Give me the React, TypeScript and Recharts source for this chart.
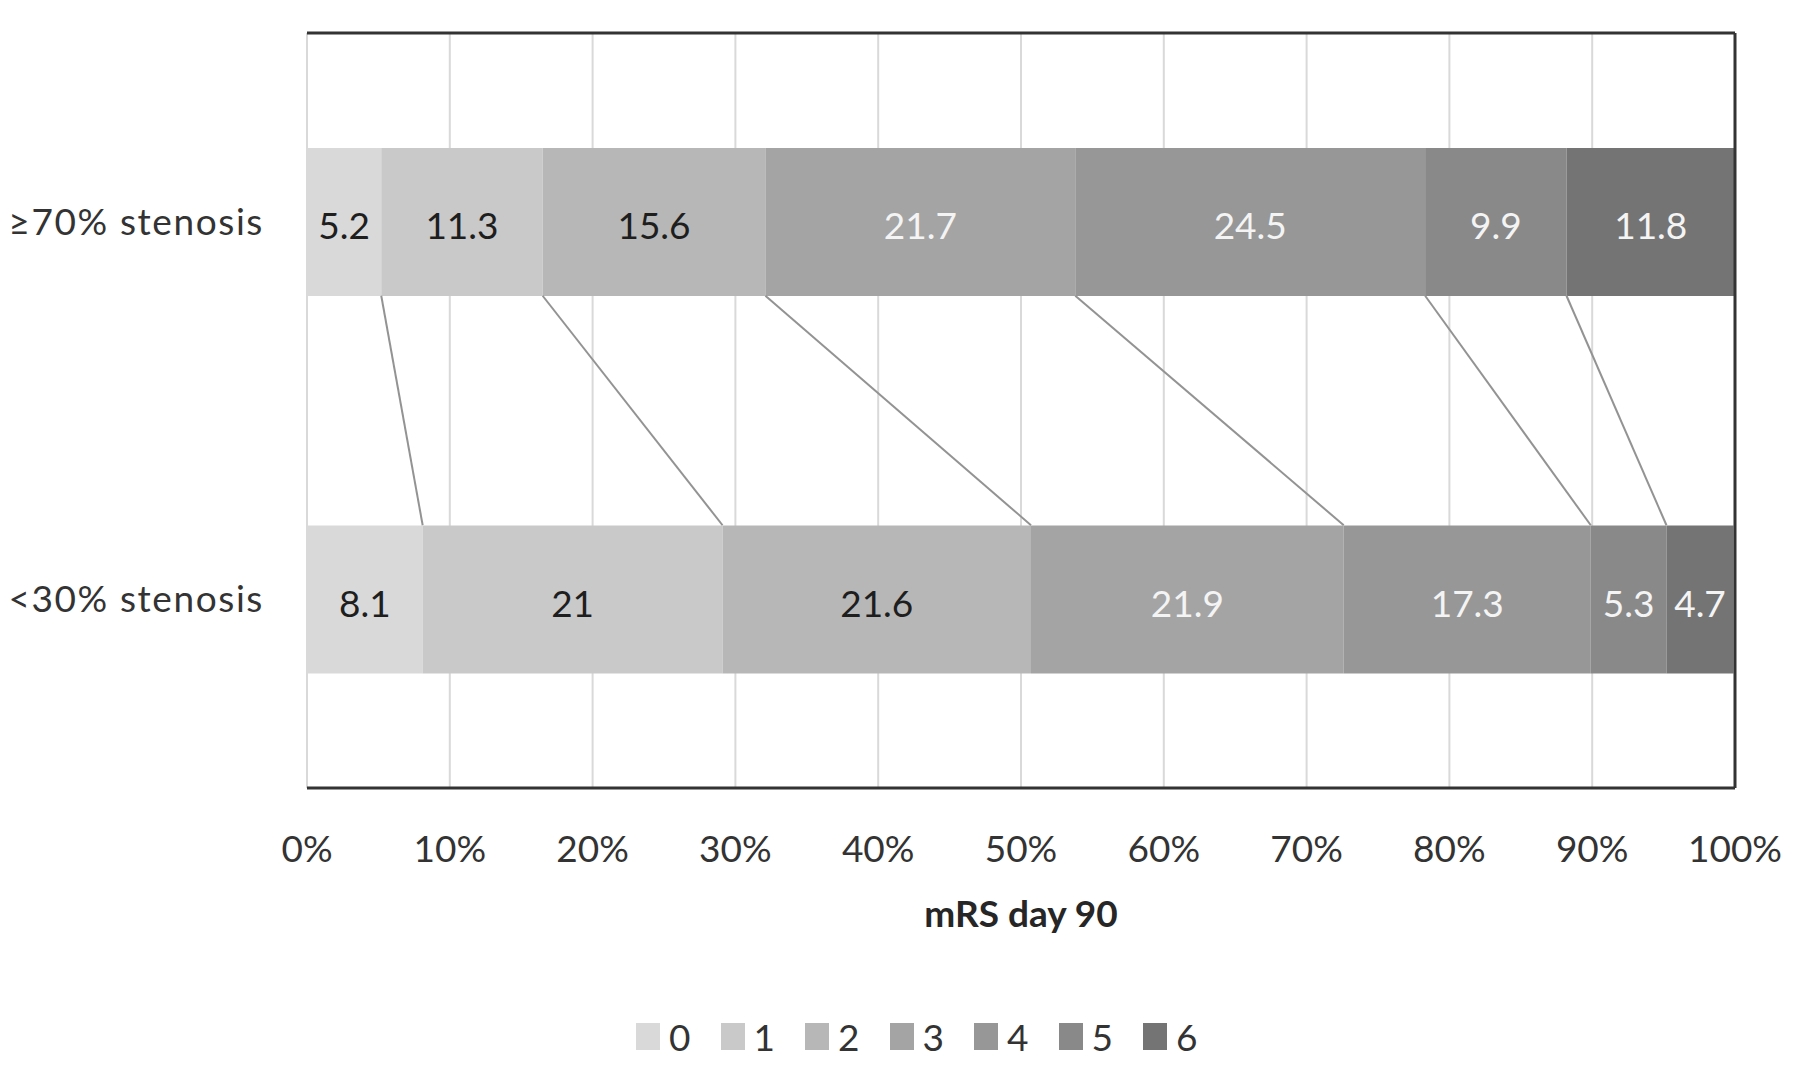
import React from 'react';
import { BarChart, Bar, XAxis, YAxis, CartesianGrid, LabelList, ReferenceLine, Legend } from 'recharts';

const categories = ['≥70% stenosis', '<30% stenosis'];
const mrsScores = ['0', '1', '2', '3', '4', '5', '6'];
const stenosis70 = [5.2, 11.3, 15.6, 21.7, 24.5, 9.9, 11.8];
const stenosis30 = [8.1, 21, 21.6, 21.9, 17.3, 5.3, 4.7];
const xTicks = [0, 10, 20, 30, 40, 50, 60, 70, 80, 90, 100];

const colors = ['#d9d9d9', '#c9c9c9', '#b7b7b7', '#a4a4a4', '#979797', '#898989', '#747474'];
const labelColors = ['#1e1e1e', '#1e1e1e', '#1e1e1e', '#f4f4f4', '#f4f4f4', '#f4f4f4', '#f4f4f4'];

const FONT = 'Lato, "Open Sans", sans-serif';
const BAR = 148;
const W = 1784;
const H = 1063;

const seriesRows = [stenosis70, stenosis30];
const data = categories.map((name, r) => {
  const row: Record<string, any> = { name };
  mrsScores.forEach((s, i) => {
    row['m' + s] = seriesRows[r][i];
  });
  return row;
});

const cumulative = (arr: number[]) => {
  const out: number[] = [];
  let acc = 0;
  arr.forEach((v) => {
    acc = Math.round((acc + v) * 10) / 10;
    out.push(acc);
  });
  return out;
};
const cum70 = cumulative(stenosis70);
const cum30 = cumulative(stenosis30);
const connectors = mrsScores.slice(0, mrsScores.length - 1).map((_, i) => [cum70[i], cum30[i]]);

const ConnectorShape = (props: any) => {
  const { x1, y1, x2, y2 } = props;
  return (
    <line
      x1={x1}
      y1={y1 + BAR / 2}
      x2={x2}
      y2={y2 - BAR / 2}
      stroke="#939393"
      strokeWidth={2}
    />
  );
};

const LegendContent = () => (
  <div style={{ height: 133, position: 'relative', fontFamily: FONT }}>
    <div style={{ position: 'absolute', left: 628, top: 85, display: 'flex' }}>
      {mrsScores.map((s, i) => (
        <div key={s} style={{ display: 'flex', alignItems: 'center', width: 84.5 }}>
          <div style={{ width: 24, height: 27, background: colors[i] }} />
          <span style={{ marginLeft: 9, fontSize: 37, color: '#333', lineHeight: '27px' }}>{s}</span>
        </div>
      ))}
    </div>
  </div>
);

export default function App() {
  return (
    <div style={{ width: W, height: H }}>
      <BarChart
        width={W}
        height={H}
        data={data}
        layout="vertical"
        margin={{ top: 25, right: 57, left: 0, bottom: 0 }}
      >
        <CartesianGrid vertical horizontal={false} stroke="#d9d9d9" strokeWidth={2} />
        <XAxis
          type="number"
          domain={[0, 100]}
          ticks={xTicks}
          tickFormatter={(v) => `${v}%`}
          axisLine={{ stroke: '#333', strokeWidth: 3 }}
          tickLine={false}
          tickSize={0}
          tickMargin={48}
          height={150}
          interval={0}
          tick={{ fontSize: 37, fill: '#333', fontFamily: FONT }}
          label={{
            value: 'mRS day 90',
            position: 'insideTop',
            offset: 113,
            fontSize: 37,
            fontWeight: 'bold',
            fill: '#262626',
            fontFamily: FONT,
          }}
        />
        <YAxis
          type="category"
          dataKey="name"
          width={299}
          axisLine={false}
          tickLine={false}
          tickSize={0}
          tickMargin={43}
          tick={{ fontSize: 37, fill: '#333', fontFamily: FONT, letterSpacing: 1.6 }}
        />
        {mrsScores.map((s, i) => (
          <Bar
            key={s}
            dataKey={'m' + s}
            name={s}
            stackId="a"
            fill={colors[i]}
            barSize={BAR}
            isAnimationActive={false}
          >
            <LabelList
              dataKey={'m' + s}
              position="center"
              fill={labelColors[i]}
              fontSize={37}
              fontFamily={FONT}
              dy={4}
            />
          </Bar>
        ))}
        {connectors.map(([a, b], i) => (
          <ReferenceLine
            key={'c' + i}
            segment={[
              { x: a, y: categories[0] },
              { x: b, y: categories[1] },
            ]}
            shape={ConnectorShape}
          />
        ))}
        <ReferenceLine
          segment={[
            { x: 0, y: categories[0] },
            { x: 100, y: categories[0] },
          ]}
          position="start"
          stroke="#333"
          strokeWidth={3}
        />
        <ReferenceLine x={100} stroke="#333" strokeWidth={3} />
        <Legend
          verticalAlign="bottom"
          content={<LegendContent />}
          wrapperStyle={{ left: 0, width: W, bottom: 0 }}
        />
      </BarChart>
    </div>
  );
}
